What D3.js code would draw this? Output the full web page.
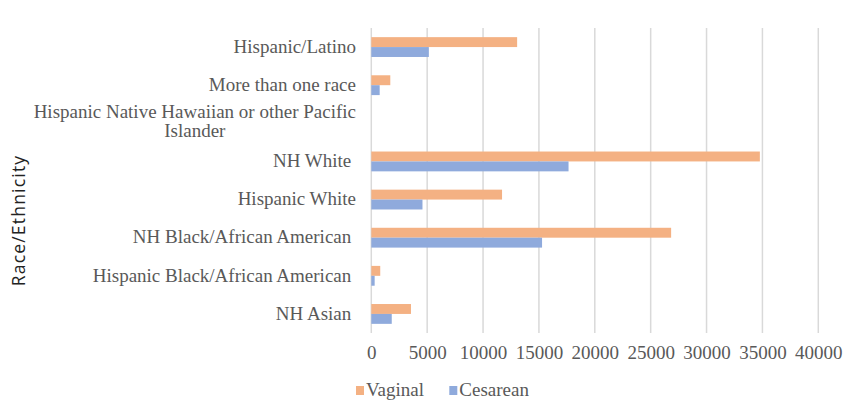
<!DOCTYPE html>
<html><head><meta charset="utf-8">
<script src="https://cdn.jsdelivr.net/npm/d3@7"></script>
<style>
html,body{margin:0;padding:0;background:#fff;}
text{white-space:pre;}
.serif{font-family:"Liberation Serif","Times New Roman","DejaVu Serif",serif;font-size:19px;fill:#595959;}
.title{font-family:"Open Sans","Noto Sans",sans-serif;font-size:17.5px;font-weight:400;fill:#222;letter-spacing:1.2px;}
</style></head>
<body><svg id="c" width="858" height="402"></svg>
<script>
const categories = ["Hispanic/Latino", "More than one race", "Hispanic Native Hawaiian or other Pacific\nIslander", "NH White ", "Hispanic White", "NH Black/African American ", "Hispanic Black/African American ", "NH Asian "];
const vaginal = [13050, 1700, 0, 34770, 11700, 26830, 800, 3550];
const cesarean = [5150, 750, 0, 17650, 4580, 15280, 300, 1830];
const seriesNames = ["Vaginal", "Cesarean"];
const xTicks = [0, 5000, 10000, 15000, 20000, 25000, 30000, 35000, 40000];
const colors = ["#F4B183", "#8FAADC"];

const svg = d3.select("#c");
const x = d3.scaleLinear().domain([0, 40000]).range([371.3, 818.3]);
const y = d3.scaleBand().domain(categories).range([28, 333]).paddingInner(0.48).paddingOuter(0.24);
const ys = d3.scaleBand().domain(seriesNames).range([0, y.bandwidth()]);

// gridlines
svg.append("g").selectAll("line").data(xTicks).join("line")
  .attr("x1", d => x(d)).attr("x2", d => x(d))
  .attr("y1", 28).attr("y2", 333)
  .attr("stroke", "#d9d9d9").attr("stroke-width", 1.5);

// bars
const data = [vaginal, cesarean];
data.forEach((vals, si) => {
  svg.append("g").selectAll("rect").data(categories).join("rect")
    .attr("x", x(0))
    .attr("y", d => y(d) + ys(seriesNames[si]))
    .attr("width", (d, i) => x(vals[i]) - x(0))
    .attr("height", ys.bandwidth())
    .attr("fill", colors[si]);
});

// x axis tick labels
const xAxis = d3.axisBottom(x).tickValues(xTicks).tickSize(0).tickPadding(0).tickFormat(d3.format("d"));
const gx = svg.append("g").attr("transform", "translate(0,358.5)").call(xAxis);
gx.select(".domain").remove();
gx.attr("font-family", null).attr("font-size", null);
gx.selectAll("text").attr("class", "serif").attr("dy", null).attr("y", 0);

// category labels
const ax = svg.append("g");
categories.forEach(c => {
  const cy = y(c) + y.bandwidth() / 2;
  const lines = c.split("\n");
  if (lines.length === 1) {
    ax.append("text").attr("class", "serif").attr("x", 356).attr("y", cy + 5.8).attr("text-anchor", "end").text(c);
  } else {
    const t1 = ax.append("text").attr("class", "serif").attr("x", 356).attr("y", cy - 5.5).attr("text-anchor", "end").text(lines[0]);
    const w = t1.node().getComputedTextLength();
    const mid = 356 - w / 2;
    t1.attr("text-anchor", "middle").attr("x", mid);
    ax.append("text").attr("class", "serif").attr("x", mid).attr("y", cy + 14).attr("text-anchor", "middle").text(lines[1]);
  }
});

// y title
svg.append("text").attr("class", "title").attr("transform", "translate(24.5,220.5) rotate(-90)").attr("text-anchor", "middle")
  .text("Race/Ethnicity");

// legend
const lg = svg.append("g");
const lx = [356, 449.3];
seriesNames.forEach((s, i) => {
  lg.append("rect").attr("x", lx[i]).attr("y", 386).attr("width", 8).attr("height", 9).attr("fill", colors[i]);
  lg.append("text").attr("class", "serif").attr("x", lx[i] + 10).attr("y", 396).text(s);
});
</script></body></html>
